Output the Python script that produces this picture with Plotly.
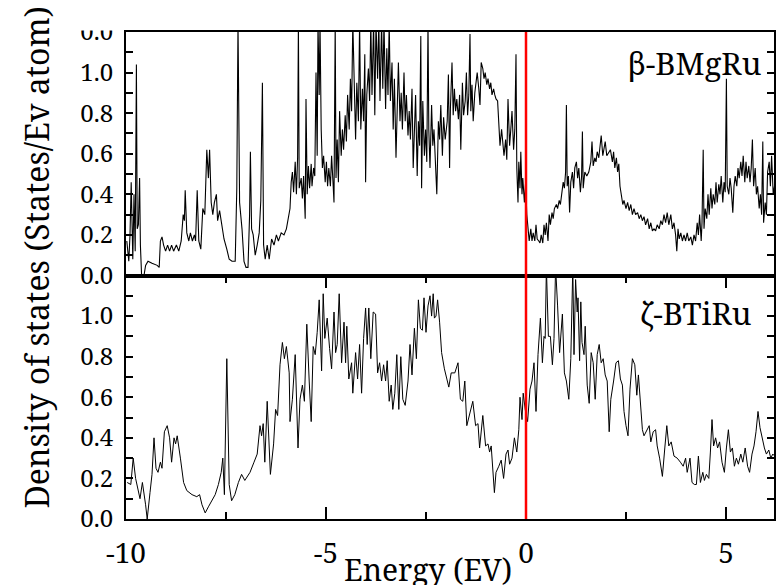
import plotly.graph_objects as go

# ---------------- data ----------------
beta_energy = [
    -9.98, -9.93, -9.90, -9.87, -9.83, -9.80, -9.77, -9.74, -9.72, -9.69,
    -9.66, -9.64, -9.61, -9.55, -9.51, -9.45, -9.35, -9.22, -9.17, -9.14,
    -9.10, -9.06, -9.01, -8.96, -8.91, -8.86, -8.81, -8.74, -8.68, -8.62,
    -8.57, -8.54, -8.52, -8.48, -8.43, -8.39, -8.34, -8.29, -8.26, -8.22,
    -8.18, -8.13, -8.08, -8.03, -7.98, -7.94, -7.91, -7.87, -7.83, -7.79,
    -7.74, -7.71, -7.66, -7.60, -7.55, -7.48, -7.42, -7.35, -7.27, -7.23,
    -7.20, -7.16, -7.13, -7.10, -7.05, -7.00, -6.95, -6.91, -6.89, -6.86,
    -6.82, -6.77, -6.72, -6.67, -6.63, -6.59, -6.56, -6.52, -6.47, -6.42,
    -6.36, -6.30, -6.24, -6.19, -6.12, -6.05, -5.99,
    -5.90, -5.87, -5.84, -5.81, -5.77, -5.74, -5.71, -5.69, -5.67, -5.62,
    -5.59, -5.56, -5.52, -5.50, -5.47, -5.44, -5.41, -5.37, -5.35, -5.31,
    -5.28, -5.25, -5.22, -5.20, -5.17, -5.15, -5.12, -5.09, -5.06, -5.02,
    -4.99, -4.96, -4.93, -4.89, -4.86, -4.82, -4.80, -4.77, -4.75, -4.72,
    -4.69, -4.66, -4.62, -4.59, -4.56, -4.52, -4.49, -4.46, -4.42, -4.39,
    -4.36, -4.33, -4.29, -4.26, -4.23, -4.19, -4.16, -4.13, -4.09, -4.06,
    -4.03, -4.01, -3.98, -3.94, -3.91, -3.88, -3.85, -3.81, -3.78, -3.75,
    -3.71, -3.68, -3.65, -3.61, -3.58, -3.55, -3.51, -3.48, -3.45, -3.42,
    -3.39, -3.35, -3.32, -3.29, -3.25, -3.22, -3.19, -3.15, -3.12, -3.09,
    -3.05, -3.02, -2.99, -2.95, -2.92, -2.89, -2.85, -2.82, -2.79, -2.76,
    -2.72, -2.69, -2.66, -2.63, -2.61, -2.58, -2.54, -2.51, -2.48, -2.45,
    -2.43, -2.40, -2.36, -2.33, -2.30, -2.26, -2.23, -2.19, -2.16, -2.13,
    -2.09, -2.06, -2.02,
    -1.97, -1.94, -1.91, -1.89, -1.85, -1.82, -1.79, -1.76, -1.73, -1.69,
    -1.66, -1.63, -1.59, -1.56, -1.52, -1.49, -1.46, -1.43, -1.40, -1.38,
    -1.35, -1.32, -1.28, -1.25, -1.22, -1.18, -1.15, -1.12, -1.08, -1.05,
    -1.02, -0.98, -0.95, -0.91, -0.88, -0.85, -0.81, -0.78, -0.75, -0.71,
    -0.68, -0.65, -0.61, -0.58, -0.55, -0.51, -0.48, -0.45, -0.41, -0.38,
    -0.35, -0.31, -0.28, -0.25, -0.23, -0.20, -0.18, -0.15, -0.13, -0.10,
    -0.08, -0.04, -0.01, 0.02, 0.05, 0.08, 0.12, 0.15, 0.18, 0.22,
    0.25, 0.28, 0.32, 0.35, 0.38, 0.42, 0.45, 0.48, 0.51, 0.55,
    0.58, 0.61, 0.65, 0.68, 0.71, 0.76, 0.79, 0.83, 0.86, 0.89,
    0.93, 0.96, 0.99, 1.01, 1.03, 1.06, 1.09, 1.12, 1.16, 1.19,
    1.22, 1.26, 1.29, 1.32, 1.36, 1.39, 1.41, 1.43, 1.47, 1.52,
    1.57, 1.62, 1.65, 1.68, 1.72, 1.75, 1.78, 1.82, 1.85, 1.88,
    1.92, 1.95, 1.98, 2.02,
    2.11, 2.16, 2.19, 2.22, 2.26, 2.29, 2.32, 2.35, 2.39, 2.42,
    2.45, 2.50, 2.54, 2.58, 2.62, 2.66, 2.70, 2.74, 2.79, 2.83,
    2.87, 2.91, 2.95, 2.99, 3.04, 3.08, 3.12, 3.16, 3.20, 3.24,
    3.28, 3.33, 3.37, 3.41, 3.45, 3.49, 3.53, 3.57, 3.62, 3.66,
    3.70, 3.74, 3.77, 3.80, 3.83, 3.87, 3.91, 3.95, 3.99, 4.03,
    4.07, 4.12, 4.16, 4.20, 4.24, 4.28, 4.31, 4.34, 4.38, 4.40,
    4.43, 4.45, 4.48, 4.52, 4.55, 4.58, 4.62, 4.65, 4.68, 4.72,
    4.75, 4.78, 4.82, 4.85, 4.88, 4.92, 4.95, 4.98, 5.01, 5.03,
    5.07, 5.10, 5.13, 5.17, 5.20, 5.23, 5.27, 5.30, 5.33, 5.37,
    5.40, 5.43, 5.47, 5.50, 5.53, 5.57, 5.60, 5.63, 5.66, 5.69,
    5.73, 5.76, 5.79, 5.83, 5.86, 5.89, 5.92, 5.94, 5.98, 6.01,
    6.04, 6.08, 6.11, 6.14, 6.18, 6.22,
]

beta_dos = [
    0.17, 0.07, 0.20, 0.46, 0.08, 0.40, 0.12, 1.04, 0.23, 0.25,
    0.48, 0.15, 0.00, 0.00, 0.05, 0.07, 0.06, 0.05, 0.04, 0.17,
    0.19, 0.15, 0.12, 0.15, 0.12, 0.15, 0.12, 0.15, 0.12, 0.17,
    0.30, 0.27, 0.42, 0.21, 0.17, 0.21, 0.17, 0.20, 0.17, 0.42,
    0.17, 0.13, 0.33, 0.30, 0.62, 0.48, 0.62, 0.36, 0.30, 0.36,
    0.40, 0.27, 0.32, 0.23, 0.18, 0.13, 0.08, 0.07, 0.07, 0.43,
    1.25, 0.36, 0.30, 0.23, 0.07, 0.04, 0.04, 0.30, 0.61, 0.23,
    0.20, 0.10, 0.15, 0.21, 0.37, 0.95, 0.15, 0.08, 0.15, 0.08,
    0.18, 0.15, 0.20, 0.17, 0.21, 0.20, 0.23,
    0.33, 0.46, 0.51, 0.41, 0.56, 0.40, 0.58, 1.25, 0.43, 0.48,
    0.38, 0.49, 0.28, 0.87, 0.40, 0.54, 0.43, 0.55, 0.44, 0.53,
    0.49, 1.00, 0.59, 1.25, 0.89, 1.25, 0.72, 0.53, 0.59, 0.46,
    0.56, 0.44, 0.53, 0.44, 0.59, 0.44, 0.36, 1.25, 0.48, 0.67,
    0.46, 0.81, 0.59, 0.72, 0.62, 0.79, 0.66, 0.89, 0.72, 0.97,
    0.81, 1.25, 0.89, 0.67, 0.95, 0.76, 1.25, 0.72, 0.92, 0.76,
    1.09, 0.46, 0.89, 1.02, 0.86, 1.25, 0.89, 1.25, 0.79, 1.25,
    0.97, 1.25, 0.86, 1.25, 0.92, 1.25, 0.82, 1.12, 0.89, 1.25,
    0.86, 1.05, 0.72, 0.97, 0.58, 0.89, 1.05, 0.76, 0.90, 0.72,
    1.00, 0.76, 0.89, 0.69, 0.81, 0.67, 0.92, 0.53, 0.72, 0.89,
    0.49, 0.76, 0.64, 1.18, 0.43, 0.86, 0.59, 0.72, 0.56, 1.25,
    0.72, 0.53, 0.84, 0.64, 0.72, 0.53, 0.40, 0.76, 0.67, 0.84,
    0.59, 0.78, 0.67,
    0.76, 0.99, 0.53, 0.82, 1.05, 0.79, 0.92, 0.81, 0.87, 0.77,
    0.89, 0.62, 0.95, 0.79, 0.86, 1.00, 0.79, 0.89, 1.19, 0.81,
    0.94, 0.76, 0.90, 0.97, 1.00, 0.92, 0.84, 1.05, 1.02, 0.97,
    1.00, 0.94, 0.97, 0.92, 0.95, 0.89, 0.92, 0.89, 0.87, 0.86,
    0.76, 0.64, 0.72, 0.66, 0.59, 0.67, 0.57, 0.87, 0.64, 0.72,
    0.81, 0.62, 0.72, 1.09, 0.53, 0.36, 0.56, 0.43, 0.61, 0.40,
    0.48, 0.36, 0.46, 0.30, 0.23, 0.17, 0.23, 0.17, 0.21, 0.17,
    0.25, 0.18, 0.17, 0.16, 0.20, 0.16, 0.25, 0.20, 0.26, 0.17,
    0.30, 0.25, 0.31, 0.28, 0.33, 0.35, 0.33, 0.37, 0.35, 0.40,
    0.46, 0.43, 0.51, 0.84, 0.44, 0.49, 0.31, 0.46, 0.51, 0.43,
    0.53, 0.56, 0.48, 0.53, 0.41, 0.49, 0.71, 0.43, 0.51, 0.49,
    0.51, 0.56, 0.66, 0.54, 0.58, 0.56, 0.61, 0.58, 0.64, 0.69,
    0.59, 0.62, 0.66, 0.59,
    0.62, 0.56, 0.61, 0.53, 0.58, 0.51, 0.55, 0.44, 0.38, 0.35,
    0.37, 0.33, 0.36, 0.32, 0.35, 0.30, 0.33, 0.30, 0.31, 0.28,
    0.30, 0.27, 0.29, 0.25, 0.28, 0.23, 0.26, 0.22, 0.23, 0.22,
    0.25, 0.23, 0.27, 0.25, 0.30, 0.26, 0.31, 0.25, 0.30, 0.23,
    0.26, 0.20, 0.12, 0.23, 0.18, 0.21, 0.17, 0.20, 0.17, 0.21,
    0.17, 0.19, 0.15, 0.20, 0.17, 0.26, 0.20, 0.30, 0.17, 0.26,
    0.62, 0.23, 0.33, 0.28, 0.40, 0.30, 0.43, 0.33, 0.40, 0.35,
    0.46, 0.36, 0.45, 0.40, 0.49, 0.36, 0.46, 0.41, 0.97, 0.44,
    0.40, 0.48, 0.43, 0.31, 0.44, 0.49, 0.44, 0.53, 0.48, 0.56,
    0.49, 0.59, 0.46, 0.56, 0.48, 0.54, 0.46, 0.53, 0.67, 0.44,
    0.53, 0.40, 0.44, 0.33, 0.40, 0.30, 0.66, 0.26, 0.36, 0.30,
    0.51, 0.56, 0.44, 0.59, 0.40, 0.45,
]

zeta_energy = [
    -9.97, -9.88, -9.82, -9.76, -9.65, -9.59, -9.51, -9.47, -9.40, -9.35,
    -9.30, -9.25, -9.20, -9.14, -9.10, -9.04, -8.97, -8.91, -8.86, -8.80,
    -8.76, -8.72, -8.64, -8.56, -8.48, -8.35, -8.23, -8.16, -8.10, -8.02,
    -7.94, -7.86, -7.77, -7.69, -7.62, -7.58, -7.54, -7.48, -7.42, -7.36,
    -7.28, -7.19, -7.11, -7.03, -6.90, -6.80, -6.72, -6.65, -6.61, -6.57,
    -6.53, -6.47, -6.39, -6.31, -6.26, -6.21, -6.15, -6.09, -6.04, -5.99,
    -5.92, -5.90, -5.84, -5.77, -5.70, -5.65, -5.59, -5.54, -5.48, -5.42,
    -5.37, -5.32, -5.27, -5.22, -5.17, -5.11, -5.07, -5.03, -4.97, -4.91,
    -4.86, -4.80, -4.76, -4.72, -4.67, -4.61, -4.55, -4.51, -4.48, -4.43,
    -4.36, -4.33, -4.26, -4.21, -4.16, -4.11, -4.06, -4.01, -3.97, -3.93,
    -3.88, -3.82, -3.76, -3.71, -3.66, -3.61, -3.56, -3.51, -3.47, -3.42,
    -3.37, -3.33, -3.28, -3.23, -3.18, -3.13, -3.08, -3.02, -2.95, -2.90,
    -2.85, -2.79, -2.74, -2.69, -2.64, -2.59, -2.55, -2.50, -2.45, -2.40,
    -2.36, -2.32, -2.29, -2.25, -2.21, -2.16, -2.11, -2.04, -1.99,
    -1.93, -1.87, -1.78, -1.70, -1.64, -1.58, -1.53, -1.48, -1.41, -1.33,
    -1.26, -1.20, -1.16, -1.08, -1.01, -0.95, -0.91, -0.87, -0.79, -0.75,
    -0.68, -0.62, -0.56, -0.50, -0.45, -0.41, -0.35, -0.29, -0.23, -0.18,
    -0.15, -0.10, -0.07, -0.02, 0.04, 0.10, 0.15, 0.20, 0.25, 0.30,
    0.36, 0.41, 0.45, 0.48, 0.51, 0.56, 0.61, 0.66, 0.70, 0.74,
    0.79, 0.84, 0.91, 0.96, 1.01, 1.07, 1.12, 1.17, 1.20, 1.24,
    1.28, 1.30, 1.34, 1.37, 1.40, 1.45, 1.48, 1.53, 1.58, 1.63,
    1.68, 1.73, 1.78, 1.83, 1.88, 1.93, 1.98, 2.03,
    2.08, 2.12, 2.19, 2.25, 2.31, 2.36, 2.41, 2.45, 2.50, 2.55,
    2.60, 2.66, 2.72, 2.77, 2.81, 2.85, 2.91, 2.95, 3.02, 3.08,
    3.12, 3.18, 3.24, 3.28, 3.34, 3.41, 3.47, 3.52, 3.57, 3.63,
    3.70, 3.78, 3.86, 3.93, 3.99, 4.03, 4.10, 4.15, 4.21, 4.26,
    4.31, 4.36, 4.42, 4.46, 4.51, 4.57, 4.61, 4.65, 4.69, 4.74,
    4.79, 4.84, 4.90, 4.96, 5.01, 5.06, 5.11, 5.16, 5.21, 5.26,
    5.31, 5.37, 5.42, 5.48, 5.54, 5.59, 5.65, 5.70, 5.75, 5.80,
    5.85, 5.90, 5.96, 6.01, 6.07, 6.12, 6.17, 6.22,
]

zeta_dos = [
    0.18, 0.17, 0.30, 0.20, 0.10, 0.18, 0.07, 0.00, 0.13, 0.22,
    0.40, 0.25, 0.23, 0.28, 0.25, 0.43, 0.46, 0.40, 0.28, 0.40,
    0.37, 0.41, 0.30, 0.18, 0.14, 0.12, 0.11, 0.12, 0.07, 0.03,
    0.06, 0.09, 0.12, 0.17, 0.23, 0.30, 0.12, 0.79, 0.17, 0.09,
    0.12, 0.18, 0.22, 0.19, 0.23, 0.28, 0.32, 0.46, 0.41, 0.47,
    0.28, 0.58, 0.22, 0.37, 0.54, 0.51, 0.76, 0.87, 0.79, 0.85,
    0.72, 0.48, 0.59, 0.81, 0.35, 0.59, 0.66, 0.58, 0.96, 0.68,
    0.48, 0.85, 0.81, 0.92, 1.08, 0.73, 1.11, 0.89, 0.99, 0.84,
    0.74, 1.02, 0.82, 0.86, 1.11, 0.77, 0.97, 0.77, 0.95, 0.69,
    0.77, 0.62, 0.82, 0.69, 0.86, 0.62, 0.89, 1.04, 0.86, 1.04,
    0.79, 1.02, 1.01, 0.72, 0.77, 0.68, 0.76, 0.68, 0.78, 0.58,
    0.66, 0.54, 0.62, 0.81, 0.54, 0.80, 0.59, 0.56, 0.68, 0.86,
    0.71, 0.94, 0.79, 1.08, 0.94, 0.93, 1.09, 0.92, 1.05, 1.10,
    1.00, 1.11, 0.99, 1.00, 1.08, 0.97, 0.82, 0.74, 0.70,
    0.65, 0.72, 0.72, 0.77, 0.59, 0.58, 0.68, 0.46, 0.51, 0.58,
    0.46, 0.47, 0.35, 0.51, 0.36, 0.37, 0.33, 0.36, 0.13, 0.23,
    0.26, 0.29, 0.20, 0.32, 0.34, 0.27, 0.30, 0.40, 0.33, 0.44,
    0.60, 0.49, 0.62, 0.54, 0.48, 0.64, 0.68, 0.77, 0.53, 0.81,
    0.99, 0.77, 0.90, 0.89, 1.24, 0.90, 0.90, 0.76, 0.89, 1.24,
    1.05, 0.82, 1.01, 0.72, 0.68, 0.59, 0.79, 1.24, 0.81, 1.18,
    1.02, 1.09, 0.78, 1.07, 0.87, 0.81, 0.95, 0.66, 0.57, 0.82,
    0.77, 0.59, 0.81, 0.86, 0.77, 0.79, 0.71, 0.68,
    0.43, 0.59, 0.68, 0.77, 0.78, 0.69, 0.66, 0.53, 0.46, 0.41,
    0.64, 0.79, 0.76, 0.61, 0.71, 0.59, 0.44, 0.41, 0.44, 0.46,
    0.38, 0.43, 0.44, 0.36, 0.30, 0.21, 0.35, 0.46, 0.36, 0.38,
    0.31, 0.30, 0.28, 0.26, 0.30, 0.23, 0.30, 0.18, 0.17, 0.17,
    0.31, 0.18, 0.23, 0.19, 0.22, 0.20, 0.33, 0.49, 0.36, 0.40,
    0.35, 0.38, 0.28, 0.23, 0.35, 0.44, 0.33, 0.35, 0.26, 0.30,
    0.27, 0.32, 0.28, 0.35, 0.26, 0.23, 0.32, 0.36, 0.43, 0.53,
    0.45, 0.40, 0.35, 0.32, 0.34, 0.30, 0.32, 0.31,
]

x_tick_vals = [-10, -5, 0, 5]
x_tick_text = ["-10", "-5", "0", "5"]
x_minor_vals = [-7.5, -2.5, 2.5]
y_tick_vals = [0.0, 0.1, 0.2, 0.3, 0.4, 0.5, 0.6, 0.7, 0.8, 0.9, 1.0, 1.1, 1.2]
y_text_bottom = ["0.0", "", "0.2", "", "0.4", "", "0.6", "", "0.8", "", "1.0", "", ""]
y_text_top = ["0.0", "", "0.2", "", "0.4", "", "0.6", "", "0.8", "", "1.0", "", "0.0"]

label_top = "β-BMgRu"
label_bottom = "ζ-BTiRu"
x_title = "Energy (EV)"
y_title = "Density of states (States/Ev atom)"

FONT = "Noto Serif"

fig = go.Figure()
fig.add_trace(go.Scatter(x=zeta_energy, y=zeta_dos, mode="lines",
                         line=dict(color="black", width=1),
                         xaxis="x", yaxis="y", showlegend=False, hoverinfo="skip"))
fig.add_trace(go.Scatter(x=beta_energy, y=beta_dos, mode="lines",
                         line=dict(color="black", width=1.1),
                         xaxis="x2", yaxis="y2", showlegend=False, hoverinfo="skip"))

yax_common = dict(range=[0, 1.2], tickmode="array", tickvals=y_tick_vals,
                  ticks="inside", ticklen=7, tickwidth=2, tickcolor="black",
                  showline=True, linewidth=2, linecolor="black", mirror="ticks",
                  showgrid=False, zeroline=False, ticklabelstandoff=6,
                  tickfont=dict(family=FONT, size=24, color="black"))

fig.update_layout(
    width=782, height=585,
    margin=dict(l=126, r=6, t=32, b=66),
    paper_bgcolor="white", plot_bgcolor="white",
    showlegend=False,
    font=dict(family=FONT, color="black"),
    xaxis=dict(domain=[0, 1], range=[-10, 6.2], anchor="y",
               tickmode="array", tickvals=x_tick_vals, ticktext=x_tick_text,
               ticks="inside", ticklen=12, tickwidth=2, tickcolor="black",
               minor=dict(tickmode="array", tickvals=x_minor_vals, ticks="inside",
                          ticklen=7, tickwidth=2, tickcolor="black"),
               showline=True, linewidth=2, linecolor="black", mirror="ticks",
               showgrid=False, zeroline=False, ticklabelstandoff=8,
               tickfont=dict(family=FONT, size=28, color="black")),
    xaxis2=dict(domain=[0, 1], range=[-10, 6.2], anchor="y2", matches="x",
                showticklabels=False, ticks="", showline=True, linewidth=2,
                linecolor="black", mirror=True, showgrid=False, zeroline=False),
    yaxis=dict(domain=[0, 0.5], anchor="x", ticktext=y_text_bottom, **yax_common),
    yaxis2=dict(domain=[0.5, 1], anchor="x2", ticktext=y_text_top, **yax_common),
    shapes=[
        dict(type="line", xref="x", yref="paper", x0=0, x1=0, y0=0, y1=1,
             line=dict(color="#ff0000", width=2.5), layer="above"),
        dict(type="rect", xref="paper", yref="paper", x0=-0.09, x1=-0.01,
             y0=1.003, y1=1.07, fillcolor="white", line=dict(width=0), layer="above"),
    ],
    annotations=[
        dict(text=label_top, xref="paper", yref="paper", x=0.983, y=0.936,
             xanchor="right", yanchor="middle", showarrow=False,
             font=dict(family=FONT, size=31, color="black")),
        dict(text=label_bottom, xref="paper", yref="paper", x=0.968, y=0.423,
             xanchor="right", yanchor="middle", showarrow=False,
             font=dict(family=FONT, size=31, color="black")),
        dict(text=x_title, xref="paper", yref="paper", x=0.466, y=-0.103,
             xanchor="center", yanchor="middle", showarrow=False,
             font=dict(family=FONT, size=30, color="black")),
        dict(text=y_title, xref="paper", yref="paper", x=-0.138, y=0.536,
             xanchor="center", yanchor="middle", showarrow=False, textangle=-90,
             font=dict(family=FONT, size=32, color="black")),
    ],
)

fig.write_html("out.html", config={"displayModeBar": False},
               post_script="document.body.style.margin='0';document.body.style.overflow='hidden';")
